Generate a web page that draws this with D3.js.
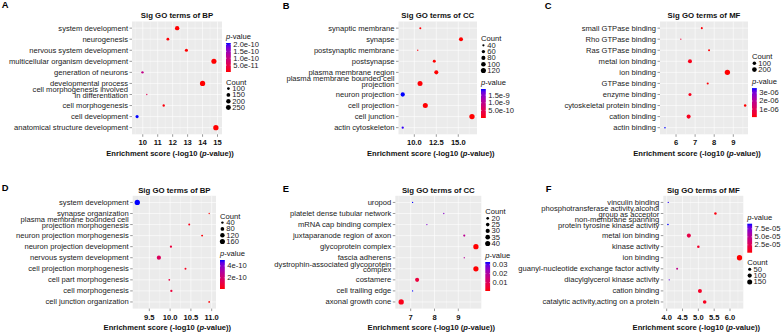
<!DOCTYPE html>
<html lang="en">
<head>
<meta charset="UTF-8">
<title>Sig GO terms</title>
<script src="https://cdn.jsdelivr.net/npm/d3@7"></script>
<style>
  body { margin: 0; background: #fff; }
  svg { display: block; font-family: "Liberation Sans", Arial, sans-serif; }
</style>
</head>
<body>
<script>
  // ---- A: BP ----
  const termsA = ["system development", "neurogenesis", "nervous system development", "multicellular organism development",
    "generation of neurons", "developmental process", "cell morphogenesis involved\nin differentiation",
    "cell morphogenesis", "cell development", "anatomical structure development"]
  const scoreA = [12.30, 11.68, 12.92, 14.76, 9.98, 14.00, 10.27, 11.40, 9.62, 14.89]
  const countA = [195, 100, 115, 265, 85, 280, 70, 85, 115, 285]
  const pvalA = [5.0e-13, 2.1e-12, 1.2e-13, 1.7e-15, 1.05e-10, 1.0e-14, 5.4e-11, 4.0e-12, 2.1e-10, 1.3e-15]
  const xTicksA = ["10", "11", "12", "13", "14", "15"]
  const countBreaksA = [100, 150, 200, 250]
  const pBreaksA = ["2.0e-10", "1.5e-10", "1.0e-10", "5.0e-11"]

  // ---- B: CC ----
  const termsB = ["synaptic membrane", "synapse", "postsynaptic membrane", "postsynapse", "plasma membrane region",
    "plasma membrane bounded cell\nprojection", "neuron projection", "cell projection", "cell junction", "actin cytoskeleton"]
  const scoreB = [10.68, 15.31, 10.39, 12.27, 12.50, 10.65, 8.68, 11.25, 16.56, 8.68]
  const countB = [38, 79, 35, 52, 79, 117, 88, 117, 130, 41]
  const pvalB = [2.1e-11, 4.9e-16, 4.1e-11, 5.4e-13, 3.2e-13, 2.2e-11, 1.9e-9, 5.6e-12, 2.8e-17, 1.85e-9]
  const xTicksB = ["10.0", "12.5", "15.0"]
  const countBreaksB = [40, 60, 80, 100, 120]
  const pBreaksB = ["1.5e-9", "1.0e-9", "5.0e-10"]

  // ---- C: MF ----
  const termsC = ["small GTPase binding", "Rho GTPase binding", "Ras GTPase binding", "metal ion binding", "ion binding",
    "GTPase binding", "enzyme binding", "cytoskeletal protein binding", "cation binding", "actin binding"]
  const scoreC = [7.35, 6.25, 7.73, 6.73, 8.69, 7.66, 6.73, 9.62, 6.66, 5.42]
  const countC = [33, 25, 32, 137, 270, 35, 70, 47, 140, 26]
  const pvalC = [4.5e-8, 5.6e-7, 1.9e-8, 1.9e-7, 2.0e-9, 2.2e-8, 1.9e-7, 2.4e-10, 2.2e-7, 3.6e-6]
  const xTicksC = ["6", "7", "8", "9"]
  const countBreaksC = [100, 200]
  const pBreaksC = ["3e-06", "2e-06", "1e-06"]

  // ---- D: BP ----
  const termsD = ["system development", "synapse organization", "plasma membrane bounded cell\nprojection morphogenesis",
    "neuron projection morphogenesis", "neuron projection development", "nervous system development",
    "cell projection morphogenesis", "cell part morphogenesis", "cell morphogenesis", "cell junction organization"]
  const scoreD = [9.21, 10.94, 10.46, 10.77, 10.02, 9.73, 10.37, 9.98, 10.03, 10.94]
  const countD = [175, 28, 32, 32, 37, 106, 32, 30, 37, 30]
  const pvalD = [5.0e-10, 1.1e-11, 3.5e-11, 1.7e-11, 9.5e-11, 1.6e-10, 4.3e-11, 1.05e-10, 9.3e-11, 1.15e-11]
  const xTicksD = ["9.5", "10.0", "10.5", "11.0"]
  const countBreaksD = [40, 80, 120, 160]
  const pBreaksD = ["4e-10", "2e-10"]

  // ---- E: CC ----
  const termsE = ["uropod", "platelet dense tubular network", "mRNA cap binding complex", "juxtaparanode region of axon",
    "glycoprotein complex", "fascia adherens", "dystrophin-associated glycoprotein\ncomplex", "costamere",
    "cell trailing edge", "axonal growth cone"]
  const scoreE = [7.08, 8.39, 7.68, 9.25, 9.74, 9.25, 9.74, 7.27, 7.08, 6.60]
  const countE = [17, 17, 17, 18, 42, 17, 41, 29, 17, 42]
  const pvalE = [0.033, 0.026, 0.027, 0.018, 0.0005, 0.019, 0.0006, 0.006, 0.033, 0.002]
  const xTicksE = ["7", "8", "9"]
  const countBreaksE = [20, 25, 30, 35, 40]
  const pBreaksE = ["0.03", "0.02", "0.01"]

  // ---- F: MF ----
  const termsF = ["vinculin binding", "phosphotransferase activity,alcohol\ngroup as acceptor",
    "non-membrane spanning\nprotein tyrosine kinase activity", "metal ion binding", "kinase activity", "ion binding",
    "guanyl-nucleotide exchange factor activity", "diacylglycerol kinase activity", "cation binding",
    "catalytic activity,acting on a protein"]
  const scoreF = [4.05, 5.54, 4.04, 4.70, 5.00, 6.30, 4.33, 4.08, 5.05, 5.20]
  const countF = [20, 33, 21, 92, 35, 170, 24, 20, 89, 72]
  const pvalF = [8.9e-5, 2.9e-6, 9.1e-5, 2.0e-5, 1.0e-5, 5.0e-7, 4.7e-5, 8.3e-5, 8.9e-6, 6.3e-6]
  const xTicksF = ["4.0", "4.5", "5.0", "5.5", "6.0"]
  const countBreaksF = [50, 100, 150]
  const pBreaksF = ["7.5e-05", "5.0e-05", "2.5e-05"]

  const W = 784, H = 332
  const rows = [
    {top: 21.5, bottom: 134.3, titleY: 15.3},
    {top: 195.8, bottom: 308.6, titleY: 190}
  ]
  const panels = [
    {letter: "A", lx: 1.7, ly: 8.3, title: "Sig GO terms of BP", terms: termsA, score: scoreA, count: countA, pval: pvalA,
      ticks: xTicksA, cBreaks: countBreaksA, pBreaks: pBreaksA, dom: [9.28, 15.30], x0: 132, x1: 222, row: 0, legTop: 36, order: ["p", "c"]},
    {letter: "B", lx: 282.7, ly: 9, title: "Sig GO terms of CC", terms: termsB, score: scoreB, count: countB, pval: pvalB,
      ticks: xTicksB, cBreaks: countBreaksB, pBreaks: pBreaksB, dom: [8.2, 17.13], x0: 398.5, x1: 477, row: 0, legTop: 38.7, order: ["c", "p"]},
    {letter: "C", lx: 544.7, ly: 9, title: "Sig GO terms of MF", terms: termsC, score: scoreC, count: countC, pval: pvalC,
      ticks: xTicksC, cBreaks: countBreaksC, pBreaks: pBreaksC, dom: [5.16, 9.77], x0: 660, x1: 748, row: 0, legTop: 56.7, order: ["c", "p"]},
    {letter: "D", lx: 1.7, ly: 191, title: "Sig GO terms of BP", terms: termsD, score: scoreD, count: countD, pval: pvalD,
      ticks: xTicksD, cBreaks: countBreaksD, pBreaks: pBreaksD, dom: [9.1, 11.104], x0: 132.7, x1: 216, row: 1, legTop: 216, order: ["c", "p"]},
    {letter: "E", lx: 282.7, ly: 192, title: "Sig GO terms of CC", terms: termsE, score: scoreE, count: countE, pval: pvalE,
      ticks: xTicksE, cBreaks: countBreaksE, pBreaks: pBreaksE, dom: [6.353, 9.966], x0: 395.3, x1: 481.3, row: 1, legTop: 211.7, order: ["c", "p"]},
    {letter: "F", lx: 545.7, ly: 192, title: "Sig GO terms of MF", terms: termsF, score: scoreF, count: countF, pval: pvalF,
      ticks: xTicksF, cBreaks: countBreaksF, pBreaks: pBreaksF, dom: [3.893, 6.42], x0: 663.3, x1: 743.3, row: 1, legTop: 216.7, order: ["p", "c"]}
  ]

  const FS = 7.6
  const svg = d3.select("body").append("svg").attr("width", W).attr("height", H)
  svg.append("rect").attr("width", W).attr("height", H).attr("fill", "#fff")
  const defs = svg.append("defs")

  panels.forEach((p, k) => {
    const row = rows[p.row]
    const g = svg.append("g")
    const x = d3.scaleLinear().domain(p.dom).range([p.x0, p.x1])
    const y = d3.scalePoint().domain(p.terms).range([row.top, row.bottom]).padding(0.6)
    const cExt = d3.extent(p.count)
    const tScale = d3.scaleLinear().domain(cExt).range([0, 1]).clamp(true)
    const radius = c => 0.25 + 0.4 * (1 + 5 * Math.sqrt(tScale(c)))
    const pExt = d3.extent(p.pval)
    const col = d3.scaleLinear().domain(pExt).range(["red", "blue"]).interpolate(d3.interpolateLab)

    // panel background + grid
    g.append("rect").attr("x", p.x0).attr("y", row.top).attr("width", p.x1 - p.x0)
      .attr("height", row.bottom - row.top).attr("fill", "#EBEBEB")
    const tv = p.ticks.map(Number)
    const step = tv[1] - tv[0]
    const minor = [tv[0] - step / 2, ...tv.map(v => v + step / 2)].filter(v => v > p.dom[0] && v < p.dom[1])
    g.selectAll(".minor").data(minor).join("line")
      .attr("x1", d => x(d)).attr("x2", d => x(d)).attr("y1", row.top).attr("y2", row.bottom)
      .attr("stroke", "#fff").attr("stroke-width", 0.3)
    g.selectAll(".vmajor").data(tv).join("line")
      .attr("x1", d => x(d)).attr("x2", d => x(d)).attr("y1", row.top).attr("y2", row.bottom)
      .attr("stroke", "#fff").attr("stroke-width", 0.6)
    g.selectAll(".hmajor").data(p.terms).join("line")
      .attr("x1", p.x0).attr("x2", p.x1).attr("y1", d => y(d)).attr("y2", d => y(d))
      .attr("stroke", "#fff").attr("stroke-width", 0.6)

    // points
    g.selectAll("circle.pt").data(p.terms).join("circle")
      .attr("cx", (d, i) => x(p.score[i]))
      .attr("cy", d => y(d))
      .attr("r", (d, i) => radius(p.count[i]))
      .attr("fill", (d, i) => col(p.pval[i]))

    // y axis
    g.selectAll(".ytick").data(p.terms).join("line")
      .attr("x1", p.x0 - 2.5).attr("x2", p.x0).attr("y1", d => y(d)).attr("y2", d => y(d))
      .attr("stroke", "#333").attr("stroke-width", 0.5)
    g.selectAll("text.ylab").data(p.terms).join("text")
      .attr("x", p.x0 - 4).attr("y", d => y(d))
      .attr("text-anchor", "end").attr("font-size", FS).attr("fill", "#1a1a1a")
      .each(function (d) {
        const lines = d.split("\n")
        const t = d3.select(this)
        if (lines.length === 1) {
          t.attr("dominant-baseline", "central").text(d)
        } else {
          lines.forEach((ln, j) => t.append("tspan").attr("x", p.x0 - 4)
            .attr("y", y(d) + (j === 0 ? -4.6 : 0.9)).attr("dominant-baseline", "central").text(ln))
        }
      })

    // x axis
    g.selectAll(".xtick").data(tv).join("line")
      .attr("x1", d => x(d)).attr("x2", d => x(d)).attr("y1", row.bottom).attr("y2", row.bottom + 2.5)
      .attr("stroke", "#333").attr("stroke-width", 0.5)
    g.selectAll("text.xlab").data(p.ticks).join("text")
      .attr("x", d => x(+d)).attr("y", row.bottom + 8.6)
      .attr("text-anchor", "middle").attr("dominant-baseline", "central")
      .attr("font-size", FS).attr("font-weight", "bold").attr("fill", "#111")
      .text(d => d)
    const at = g.append("text").attr("x", (p.x0 + p.x1) / 2 - 7).attr("y", row.bottom + 18.5)
      .attr("text-anchor", "middle").attr("dominant-baseline", "central")
      .attr("font-size", FS).attr("font-weight", "bold").attr("fill", "#111")
    at.append("tspan").text("Enrichment score (-log10 (")
    at.append("tspan").attr("font-style", "italic").text("p")
    at.append("tspan").text("-value))")

    // title + letter
    g.append("text").attr("x", (p.x0 + p.x1) / 2).attr("y", row.titleY)
      .attr("text-anchor", "middle").attr("dominant-baseline", "central")
      .attr("font-size", 7.8).attr("font-weight", "bold").attr("fill", "#111").text(p.title)
    g.append("text").attr("x", p.lx).attr("y", p.ly)
      .attr("font-size", 9.4).attr("font-weight", "bold").attr("fill", "#000").text(p.letter)

    // legends
    const lx = p.x1 + 4
    let ly = p.legTop
    p.order.forEach(kind => {
      if (kind === "p") {
        const tt = g.append("text").attr("x", lx).attr("y", ly).attr("dominant-baseline", "central")
          .attr("font-size", FS).attr("fill", "#111")
        tt.append("tspan").attr("font-style", "italic").text("p")
        tt.append("tspan").text("-value")
        const bTop = ly + 7, bBot = ly + 36, bw = 4.8
        const gid = "grad" + k
        const grad = defs.append("linearGradient").attr("id", gid)
          .attr("x1", 0).attr("y1", 1).attr("x2", 0).attr("y2", 0)
        d3.range(0, 1.0001, 0.1).forEach(t => grad.append("stop")
          .attr("offset", t).attr("stop-color", col(pExt[0] + t * (pExt[1] - pExt[0]))))
        g.append("rect").attr("x", lx).attr("y", bTop).attr("width", bw).attr("height", bBot - bTop)
          .attr("fill", `url(#${gid})`)
        const yb = d3.scaleLinear().domain(pExt).range([bBot, bTop])
        const br = p.pBreaks.filter(s => +s >= pExt[0] && +s <= pExt[1])
        g.selectAll(".cbt" + k).data(br).join("g").each(function (s) {
          const gg = d3.select(this)
          gg.append("line").attr("x1", lx).attr("x2", lx + 1).attr("y1", yb(+s)).attr("y2", yb(+s))
            .attr("stroke", "#fff").attr("stroke-width", 0.4)
          gg.append("line").attr("x1", lx + bw - 1).attr("x2", lx + bw).attr("y1", yb(+s)).attr("y2", yb(+s))
            .attr("stroke", "#fff").attr("stroke-width", 0.4)
          gg.append("text").attr("x", lx + bw + 2.5).attr("y", yb(+s)).attr("dominant-baseline", "central")
            .attr("font-size", FS).attr("fill", "#222").text(s)
        })
        ly = bBot + 10
      } else {
        g.append("text").attr("x", lx).attr("y", ly).attr("dominant-baseline", "central")
          .attr("font-size", FS).attr("fill", "#111").text("Count")
        const first = ly + 6.6, sp = 6.3
        p.cBreaks.forEach((c, i) => {
          const yy = first + i * sp
          g.append("circle").attr("cx", lx + 2.4).attr("cy", yy).attr("r", radius(c)).attr("fill", "#000")
          g.append("text").attr("x", lx + 6.3).attr("y", yy).attr("dominant-baseline", "central")
            .attr("font-size", FS).attr("fill", "#222").text(c)
        })
        ly = first + (p.cBreaks.length - 1) * sp + 11.5
      }
    })
  })
</script>
</body>
</html>
